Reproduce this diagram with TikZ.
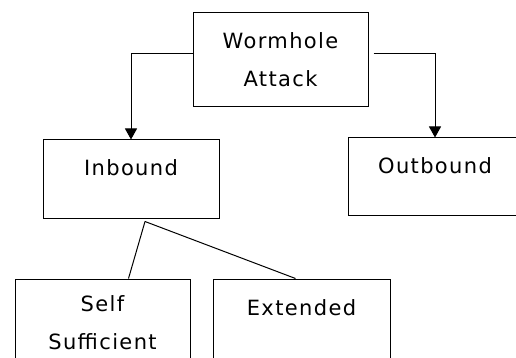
\documentclass[tikz,border=0pt]{standalone}
\usepackage{fontspec}
\setmainfont{DejaVu Sans}[LetterSpace=6.5]
\usetikzlibrary{positioning,arrows.meta}
\tikzset{
	box/.style={draw, line width=1pt, inner sep=0pt},
	txt/.style={align=center, inner sep=0pt, font=\fontsize{21}{38}\selectfont},
	link/.style={line width=1pt},
	flow/.style={line width=1pt, -{Triangle[width=12pt,length=11pt]}}
}
\begin{document}
\begin{tikzpicture}[x=1pt,y=-1pt]
		\useasboundingbox (0,0) rectangle (516,358);
		\node[box, minimum width=175pt, minimum height=94pt] (attack) at (280.5,60) {};
		\node[box, minimum width=176pt, minimum height=78pt] (inbound) at (131,179) {};
		\node[box, minimum width=174pt, minimum height=77pt] (outbound) at (435,176.5) {};
		\node[box, minimum width=175pt, minimum height=84pt] (self) at (102.5,321) {};
		\node[box, minimum width=177pt, minimum height=84pt] (extended) at (301.5,321) {};
		\node[txt, below=20pt of attack.north] (attacktxt) {Wormhole\\Attack};
		\node[txt, below=20pt of inbound.north] (inboundtxt) {Inbound};
		\node[txt, below=20pt of outbound.north] (outboundtxt) {Outbound};
		\node[txt, below=17pt of self.north] (selftxt) {Self\\Sufficient};
		\node[txt, below=21pt of extended.north] (extendedtxt) {Extended};
		\draw[flow] ([yshift=6pt]attack.west) -| (inbound.north);
		\draw[flow] ([xshift=5pt,yshift=6pt]attack.east) -| (outbound.north);
		\coordinate (split) at ([xshift=14pt,yshift=-3pt]inbound.south);
		\draw[link] (split) -- ([xshift=26pt]self.north);
		\draw[link] (split) -- ([xshift=-6pt]extended.north);
\end{tikzpicture}
\end{document}
